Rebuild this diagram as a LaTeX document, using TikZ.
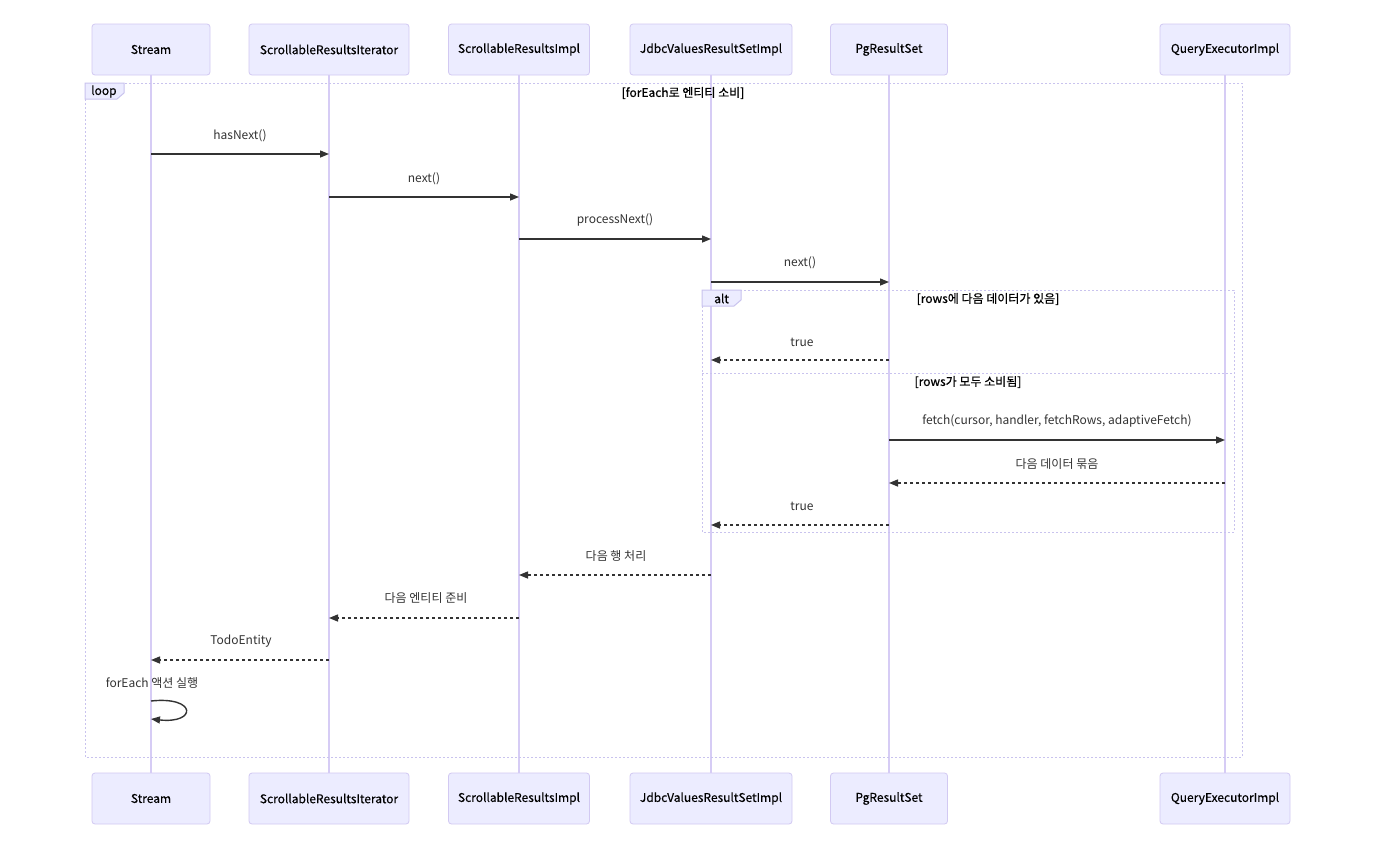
\documentclass[tikz,border=0pt]{standalone}
\usepackage{fontspec}
\setmainfont{Noto Sans CJK KR}
\newfontfamily\medfont{Noto Sans CJK KR}[FakeBold=0.6]
\newfontfamily\actfont{Noto Sans CJK KR}[FakeBold=0.3]
\usetikzlibrary{arrows.meta,calc}
\definecolor{actfill}{HTML}{ECECFF}
\definecolor{actline}{HTML}{D2C9F2}
\definecolor{lifecol}{HTML}{D6CCF5}
\definecolor{framecol}{HTML}{C9C3EE}
\definecolor{txt}{HTML}{333333}
\tikzset{
  actor/.style={draw=actline, fill=actfill, rounded corners=3pt, line width=0.8pt,
    minimum height=51pt, inner sep=0pt, font=\actfont\fontsize{12}{14}\selectfont, text=black},
  life/.style={draw=lifecol, line width=1.3pt},
  frame/.style={draw=framecol, line width=1pt, dash pattern=on 2pt off 2pt},
  tab/.style={draw=framecol, fill=actfill, line width=1pt},
  msg/.style={draw=txt, line width=1.4pt, -{Triangle[length=9pt,width=7pt]}},
  ret/.style={draw=txt, line width=1.4pt, dash pattern=on 3pt off 3pt, -{Triangle[length=9pt,width=7pt]}},
  lbl/.style={font=\fontsize{12}{14}\selectfont, text=txt, inner sep=1pt},
  ttl/.style={font=\medfont\fontsize{12}{14}\selectfont, text=black, inner sep=1pt},
}
\begin{document}
\begin{tikzpicture}[x=1pt,y=-1pt]
\useasboundingbox[fill=white] (0,0) rectangle (1390,857);
% top actors
\node[actor, minimum width=118pt] (t1) at (151,49.5) {Stream};
\node[actor, minimum width=160pt] (t2) at (329,49.5) {ScrollableResultsIterator};
\node[actor, minimum width=141pt] (t3) at (519,49.5) {ScrollableResultsImpl};
\node[actor, minimum width=162pt] (t4) at (711,49.5) {JdbcValuesResultSetImpl};
\node[actor, minimum width=117pt] (t5) at (889,49.5) {PgResultSet};
\node[actor, minimum width=130pt] (t6) at (1225,49.5) {QueryExecutorImpl};
% bottom actors
\node[actor, minimum width=118pt] (b1) at (151,798.5) {Stream};
\node[actor, minimum width=160pt] (b2) at (329,798.5) {ScrollableResultsIterator};
\node[actor, minimum width=141pt] (b3) at (519,798.5) {ScrollableResultsImpl};
\node[actor, minimum width=162pt] (b4) at (711,798.5) {JdbcValuesResultSetImpl};
\node[actor, minimum width=117pt] (b5) at (889,798.5) {PgResultSet};
\node[actor, minimum width=130pt] (b6) at (1225,798.5) {QueryExecutorImpl};
% lifelines
\foreach \i in {1,...,6} { \draw[life] (t\i.south) -- (b\i.north); }
% loop frame
\draw[frame] (85,83) rectangle (1242,757);
\draw[tab] (85,83) -- (124,83) -- (124,93) -- (117,99) -- (85,99) -- cycle;
\node[ttl, anchor=west] (looplbl) at (90,91.5) {loop};
\node[ttl] (looptitle) at (683,93) {[forEach로 엔티티 소비]};
% messages
\draw[msg] (t1 |- 0,154) -- (t2 |- 0,154);
\node[lbl] (l1) at (240,136) {hasNext()};
\draw[msg] (t2 |- 0,197) -- (t3 |- 0,197);
\node[lbl] (l2) at (424,179) {next()};
\draw[msg] (t3 |- 0,239) -- (t4 |- 0,239);
\node[lbl] (l3) at (615,220) {processNext()};
\draw[msg] (t4 |- 0,282) -- (t5 |- 0,282);
\node[lbl] (l4) at (800,263) {next()};
% alt frame
\draw[frame] (702,290) rectangle (1234,532);
\draw[tab] (702,290) -- (741,290) -- (741,300) -- (734,306) -- (702,306) -- cycle;
\node[ttl, anchor=west] (altlbl) at (713,298.5) {alt};
\node[ttl] (alttitle) at (988,299) {[rows에 다음 데이터가 있음]};
\draw[ret] (t5 |- 0,360) -- (t4 |- 0,360);
\node[lbl] (l5) at (802,342) {true};
\draw[frame] (702,373) -- (1234,373);
\node[ttl] (elsetitle) at (968,382) {[rows가 모두 소비됨]};
\draw[msg] (t5 |- 0,440) -- (t6 |- 0,440);
\node[lbl] (l6) at (1057,421) {fetch(cursor, handler, fetchRows, adaptiveFetch)};
\draw[ret] (t6 |- 0,483) -- (t5 |- 0,483);
\node[lbl] (l7) at (1057,464) {다음 데이터 묶음};
\draw[ret] (t5 |- 0,525) -- (t4 |- 0,525);
\node[lbl] (l8) at (802,506) {true};
% returns
\draw[ret] (t4 |- 0,575) -- (t3 |- 0,575);
\node[lbl] (l9) at (616,556) {다음 행 처리};
\draw[ret] (t3 |- 0,618) -- (t2 |- 0,618);
\node[lbl] (l10) at (426,598) {다음 엔티티 준비};
\draw[ret] (t2 |- 0,660) -- (t1 |- 0,660);
\node[lbl] (l11) at (241,641) {TodoEntity};
% self message
\node[lbl] (l12) at (152,683) {forEach 액션 실행};
\draw[draw=txt, line width=1.4pt, -{Triangle[length=9pt,width=7pt]}]
  (t1 |- 0,701) .. controls ($(t1 |- 0,696)+(46,0)$) and ($(t1 |- 0,724)+(46,0)$) .. (t1 |- 0,719);
\end{tikzpicture}
\end{document}
